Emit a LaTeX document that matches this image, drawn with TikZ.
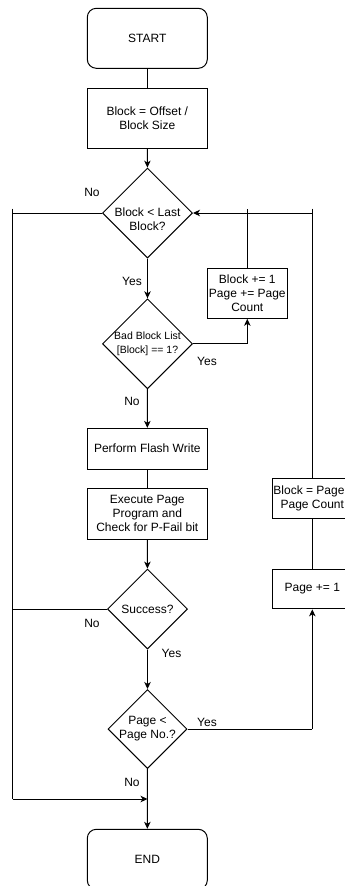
\documentclass[tikz,border=0pt]{standalone}
\usepackage{fontspec}
\setmainfont{Liberation Sans}
\usetikzlibrary{arrows.meta,shapes.geometric}
\begin{document}
\begin{tikzpicture}[x=1pt,y=-1pt,
  every node/.style={font=\fontsize{12}{14}\selectfont, inner sep=0pt},
  box/.style={draw, line width=1pt, rectangle, minimum width=#1},
  rbox/.style={draw, line width=1pt, rectangle, rounded corners=9pt, minimum width=120pt, minimum height=60pt},
  dia/.style={draw, line width=1pt, diamond, minimum width=#1, minimum height=#1},
  ln/.style={line width=1pt},
  arr/.style={line width=1pt, -{Stealth[length=7pt,width=6.5pt,inset=2pt]}},
  lbl/.style={font=\fontsize{12}{14}\selectfont},
  small/.style={font=\fontsize{10.5}{13.6}\selectfont}
]
\useasboundingbox (0,0) rectangle (345,886);
\clip (0,0) rectangle (345,886);
\fill[white] (0,0) rectangle (345,886);

% main column
\node[rbox] (start) at (147.3,38.3) {START};
\node[box=120pt, minimum height=60pt, align=center] (blk) at (147.3,118.3) {Block = Offset /\\Block Size};
\node[dia=90pt] (d1) at (147.5,213) {};
\node[align=center] (t1) at (147.5,219) {Block < Last\\Block?};
\node[dia=90pt] (d2) at (147.5,343.8) {};
\node[small, align=center] (t2) at (147.5,343.8) {Bad Block List\\{[Block]} == 1?};
\node[box=120pt, minimum height=40.7pt] (pfw) at (147.3,448.7) {Perform Flash Write};
\node[box=120pt, minimum height=50.7pt, align=center] (exe) at (147.3,513.7) {Execute Page\\Program and\\Check for P-Fail bit};
\node[dia=80pt] (d3) at (147.5,609) {};
\node (t3) at (147.5,609) {Success?};
\node[dia=79pt] (d4) at (147.5,729) {};
\node[align=center] (t4) at (147.5,729) {Page <\\Page No.?};
\node[rbox] (end) at (147.3,859.3) {END};

% right column
\node[box=80pt, minimum height=50pt, align=center] (inc) at (247.3,293.3) {Block += 1\\Page += Page\\Count};
\node[box=80pt, minimum height=40.7pt, align=center] (bp) at (312.3,498.6) {Block = Page /\\Page Count};
\node[box=80pt, minimum height=39.7pt] (pinc) at (312.3,589) {Page += 1};

% helper coordinates
\coordinate (L0) at (12.7,208.5);
\coordinate (L1) at (12.7,213);
\coordinate (L2) at (12.7,799);
\coordinate (L3) at (12.7,609);
\coordinate (J) at (147.5,799);
\coordinate (M0) at (247.3,208.5);
\coordinate (M1) at (247.3,343.8);
\coordinate (R0) at (312.3,208.5);
\coordinate (R1) at (312.3,213);
\coordinate (R2) at (312.3,729);

% connectors
\draw[ln] (start) -- (blk);
\draw[arr] (blk) -- (d1);
\draw[arr] (d1) -- (d2);
\draw[arr] (d2) -- (pfw);
\draw[ln] (pfw) -- (exe);
\draw[arr] (exe) -- (d3);
\draw[arr] (d3) -- (d4);
\draw[arr] (d4) -- (end);
\draw[ln] (d1.west) -- (L1) -- (L2);
\draw[ln] (L0) -- (L1);
\draw[arr] (L2) -- (J);
\draw[ln] (d3.west) -- (L3);
\draw[ln] (d2.east) -- (M1);
\draw[arr] (M1) -- (inc.south);
\draw[ln] (inc.north) -- (M0);
\draw[arr] (R1) -- (d1.east);
\draw[ln] (R0) -- (bp.north);
\draw[ln] (bp.south) -- (pinc.north);
\draw[ln] (d4.east) -- (R2);
\draw[arr] (R2) -- (pinc.south);

% labels
\node[lbl] (n1) at (92,192) {No};
\node[lbl] (y1) at (132,281.7) {Yes};
\node[lbl] (y2) at (207,361.7) {Yes};
\node[lbl] (n2) at (132,401.7) {No};
\node[lbl] (n3) at (92,623.3) {No};
\node[lbl] (y3) at (171.5,653.5) {Yes};
\node[lbl] (y4) at (207,722.3) {Yes};
\node[lbl] (n4) at (132,782.7) {No};
\end{tikzpicture}
\end{document}
